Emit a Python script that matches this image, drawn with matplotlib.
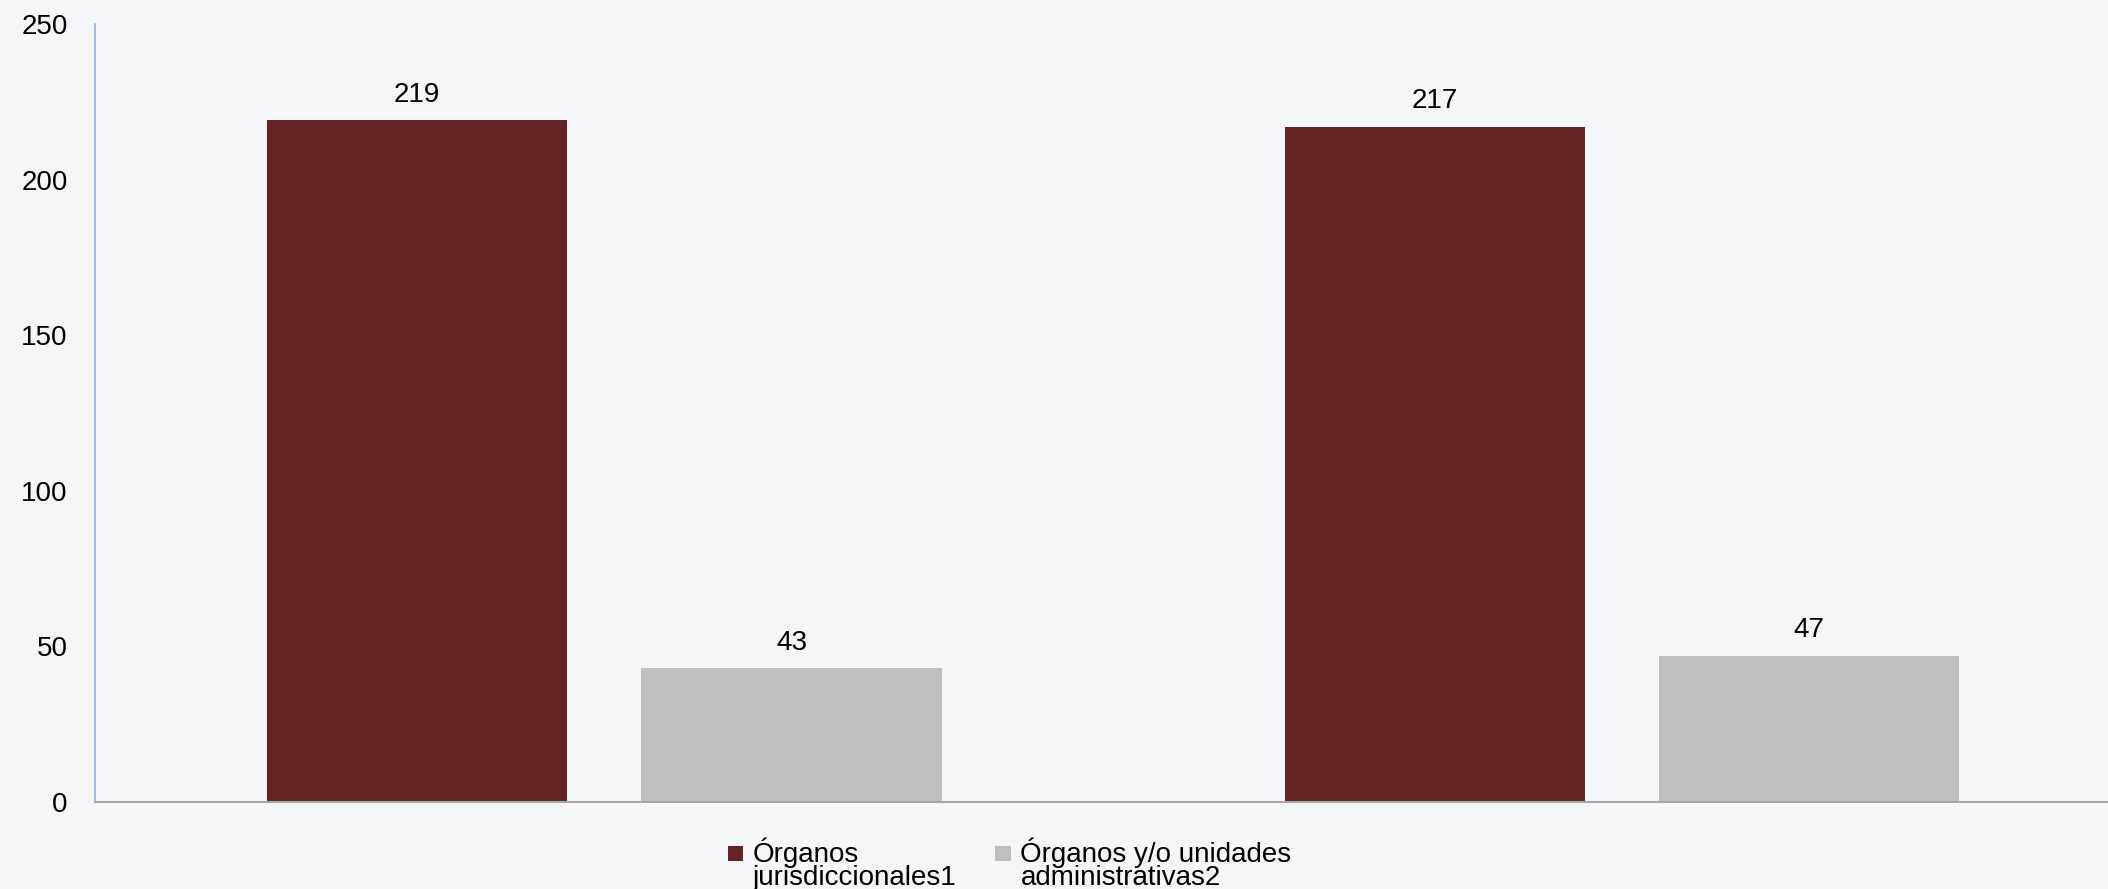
import numpy as np
import matplotlib
matplotlib.use("Agg")
import matplotlib.pyplot as plt
from matplotlib.patches import Rectangle
from matplotlib.container import BarContainer
from matplotlib.legend_handler import HandlerPatch, update_from_first_child

# datos
categorias = ["", ""]
jurisdiccionales = [219, 217]
administrativas = [43, 47]
series_labels = ["Órganos\njurisdiccionales1", "Órganos y/o unidades\nadministrativas2"]
yticks = [0, 50, 100, 150, 200, 250]

plt.rcParams['font.family'] = ['Liberation Sans', 'DejaVu Sans']

fondo = '#F4F6FA'
color_jur = '#632423'
color_adm = '#BFBFBF'

fig = plt.figure(figsize=(21.08, 8.89), dpi=100, facecolor=fondo)
# el eje continua mas alla del borde derecho, como en la imagen original
ax = fig.add_axes([0.0453, 0.098, 0.9655, 0.875])
ax.set_facecolor(fondo)

x = np.arange(len(categorias))
ancho = 0.295
desp = 0.184

b1 = ax.bar(x - desp, jurisdiccionales, ancho, color=color_jur, linewidth=0,
            label=series_labels[0])
b2 = ax.bar(x + desp, administrativas, ancho, color=color_adm, linewidth=0,
            label=series_labels[1])

for barras in (b1, b2):
    for r in barras:
        ax.annotate(f"{int(r.get_height())}",
                    (r.get_x() + r.get_width() / 2, r.get_height()),
                    xytext=(0, 9), textcoords='offset points',
                    ha='center', va='bottom', fontsize=20, color='#000000')

ax.set_xlim(-0.5, 1.5)
ax.set_ylim(0, 250)
ax.set_yticks(yticks)
ax.set_xticks([])
ax.tick_params(axis='y', length=0, pad=20, labelsize=20, labelcolor='#000000')

for s in ['top', 'right']:
    ax.spines[s].set_visible(False)
ax.spines['left'].set_color('#8DB3E2')
ax.spines['left'].set_linewidth(1.2)
ax.spines['bottom'].set_color('#A6A6A6')
ax.spines['bottom'].set_linewidth(1.5)


# cuadrito de la leyenda alineado con la primera linea del texto
def cuadro_arriba(legend, orig_handle, xdescent, ydescent, width, height, fontsize):
    lado = 0.55 * fontsize
    return Rectangle((-xdescent, -ydescent + 0.45 * fontsize), lado, lado)


leg = fig.legend(loc='upper center', bbox_to_anchor=(0.479, 0.073), ncol=2,
                 frameon=False, fontsize=20, handlelength=0.55, handleheight=0.55,
                 handletextpad=0.35, columnspacing=1.4, labelspacing=0.1, borderpad=0,
                 handler_map={BarContainer: HandlerPatch(patch_func=cuadro_arriba,
                                                         update_func=update_from_first_child)})
for t in leg.get_texts():
    t.set_linespacing(0.85)

fig.savefig('out.png', dpi=100, facecolor=fondo)
